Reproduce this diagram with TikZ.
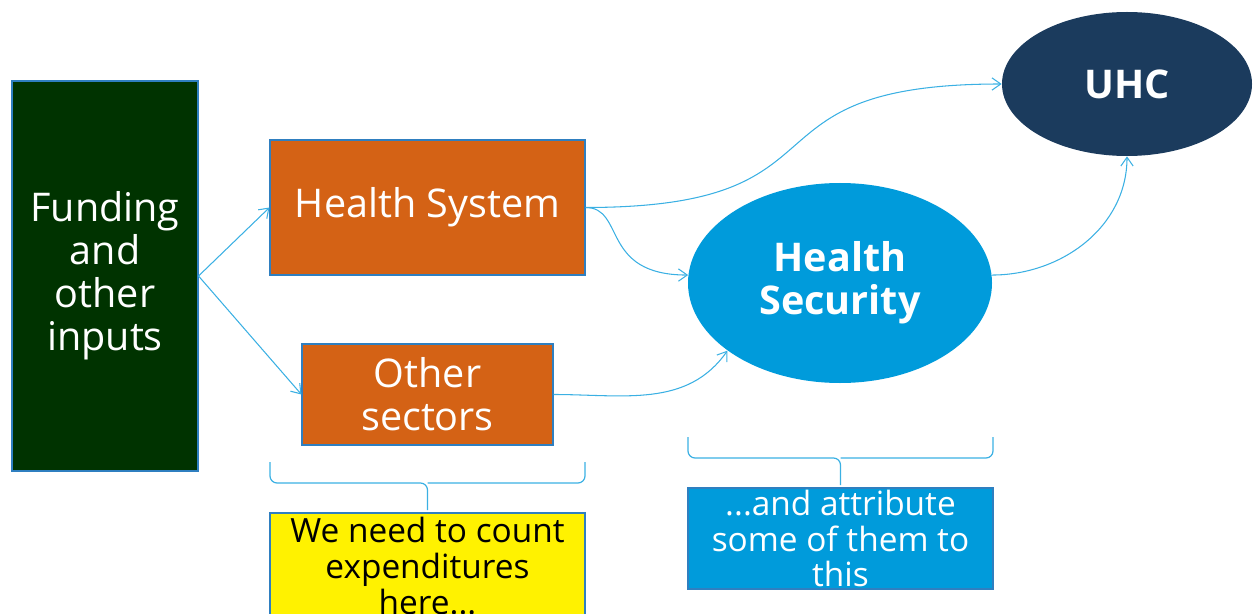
\documentclass[tikz,border=0pt]{standalone}
\usepackage{fontspec}
\setmainfont{Open Sans}
\usetikzlibrary{arrows.meta,shapes.geometric}
\definecolor{fundgreen}{HTML}{003300}
\definecolor{sysorange}{HTML}{D46215}
\definecolor{secblue}{HTML}{009BDB}
\definecolor{uhcnavy}{HTML}{1B3B5D}
\definecolor{linkblue}{HTML}{3BB0E3}
\definecolor{edgeblue}{HTML}{2F7FC0}
\def\spanbrace(#1:#2:#3){%
	\draw[bracket] (#1, #3) -- (#1, {#3-0.42}) -- ({(#1+#2)/2}, {#3-0.42}) -- ({(#1+#2)/2}, {#3-0.96});
	\draw[bracket] (#2, #3) -- (#2, {#3-0.42}) -- ({(#1+#2)/2}, {#3-0.42});}

\begin{document}
\begin{tikzpicture}[
	box/.style={draw=edgeblue, line width=0.6pt, inner sep=0pt, align=center, text=white, font=\fontsize{22.5}{24.4}\selectfont},
	blob/.style={ellipse, draw=none, inner sep=0pt, align=center, text=white, font=\bfseries\fontsize{22.5}{24.4}\selectfont},
	note/.style={draw=edgeblue, line width=0.6pt, inner sep=0pt, align=center, font=\fontsize{19}{20.4}\selectfont},
	link/.style={draw=linkblue, line width=0.6pt, -{Straight Barb[length=5pt,width=7pt]}},
	bracket/.style={draw=linkblue, line width=0.7pt, rounded corners=4pt}]
		%%%%% START %%%%%
		\useasboundingbox (0, 0) rectangle (25.06, 12.26);
		
		\node[box, fill=fundgreen, minimum width=3.72cm, minimum height=7.8cm] (fund) at (2.1, 6.74) {Funding\\and\\other\\inputs};
		\node[box, fill=sysorange, minimum width=6.3cm, minimum height=2.7cm] (hs) at (8.55, 8.11) {Health System};
		\node[box, fill=sysorange, minimum width=5.02cm, minimum height=2.02cm] (os) at (8.55, 4.37) {Other\\sectors};
		
		\node[blob, fill=secblue, minimum width=6.08cm, minimum height=4cm] (hsec) at (16.8, 6.6) {Health\\Security};
		\node[blob, fill=uhcnavy, minimum width=5cm, minimum height=2.88cm] (uhc) at (22.54, 10.58) {UHC};
		
		\draw[link] (fund.east) -- (hs.west);
		\draw[link] (fund.east) -- (os.west);
		\draw[link] (hs.east) .. controls +(5.5, 0) and +(-5.44, 0) .. (uhc.west);
		\draw[link] (hs.east) .. controls +(0.8, 0) and +(-1.76, 0) .. (hsec.177);
		\draw[link] (os.east) to[out=0, in=235] (hsec.211);
		\draw[link] (hsec.3) to[out=0, in=270] (uhc.south);
		
		\spanbrace(5.4:11.7:3.02)
		\spanbrace(13.76:19.86:3.52)
		
		\node[note, fill=yellow, minimum width=6.3cm, minimum height=2.12cm] (count) at (8.55, 0.94) {We need to count\\expenditures\\here...};
		\node[note, fill=secblue, text=white, minimum width=6.1cm, minimum height=2.02cm] (share) at (16.81, 1.49) {...and attribute\\some of them to\\this};
		%%%%% END %%%%%
\end{tikzpicture}
\end{document}
